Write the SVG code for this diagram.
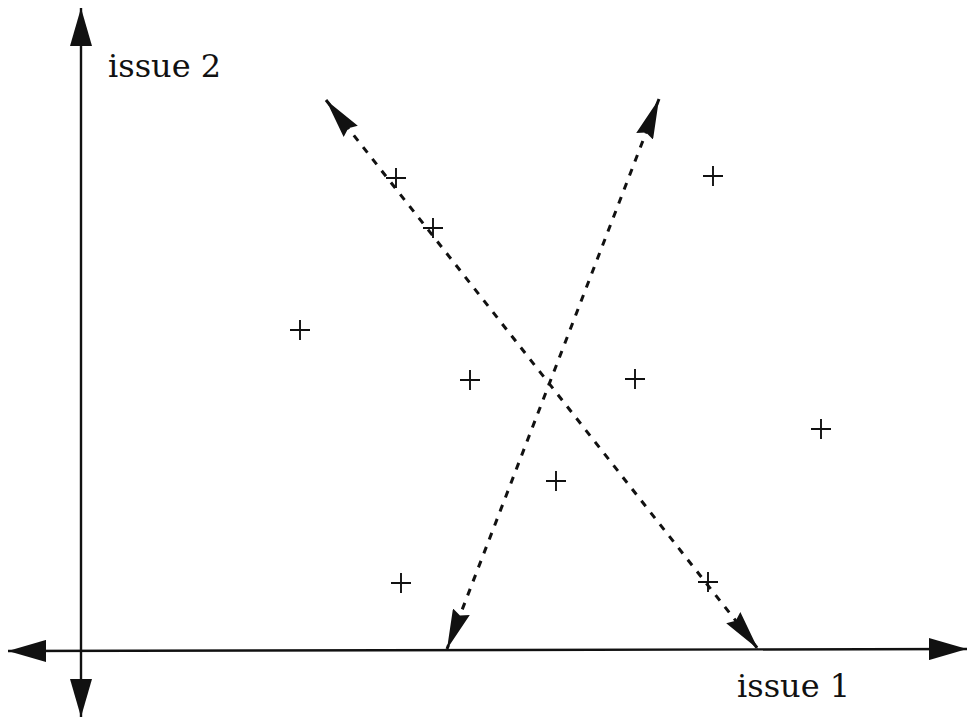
<svg xmlns="http://www.w3.org/2000/svg" width="970" height="719" viewBox="0 0 970 719">
<style>
.axis{stroke:#111;stroke-width:2.4;fill:none}
.dash{stroke:#111;stroke-width:3;fill:none;stroke-dasharray:7 8}
.pt{stroke:#111;stroke-width:1.9;fill:none}
.lbl{font-family:"DejaVu Serif","Liberation Serif",serif;font-size:32px;fill:#111}
</style>
<defs>
<marker id="axh" markerUnits="userSpaceOnUse" markerWidth="40" markerHeight="22" refX="38" refY="11" orient="auto-start-reverse" viewBox="0 0 40 22">
<path d="M0,0 L38,11 L0,22 z" fill="#111"/>
</marker>
<marker id="dh" markerUnits="userSpaceOnUse" markerWidth="42" markerHeight="18" refX="40" refY="9" orient="auto-start-reverse" viewBox="0 0 42 18">
<path d="M0,0 L40,9 L0,18 L4,9 z" fill="#111"/>
</marker>
<path id="plus" d="M-10,0 H10 M0,-10 V10"/>
</defs>
<rect width="970" height="719" fill="#fff"/>
<g id="connectors">
<line class="axis" x1="81" y1="8" x2="81" y2="717" marker-start="url(#axh)" marker-end="url(#axh)"/>
<line class="axis" x1="8" y1="651" x2="967" y2="649" marker-start="url(#axh)" marker-end="url(#axh)"/>
<line class="dash" x1="326" y1="100" x2="758" y2="649" marker-start="url(#dh)" marker-end="url(#dh)"/>
<line class="dash" x1="659" y1="99" x2="447" y2="649" marker-start="url(#dh)" marker-end="url(#dh)"/>
</g>
<g id="points" class="pt">
<use href="#plus" x="396" y="178"/>
<use href="#plus" x="433" y="228"/>
<use href="#plus" x="713" y="176"/>
<use href="#plus" x="300" y="330"/>
<use href="#plus" x="470" y="380"/>
<use href="#plus" x="635" y="379"/>
<use href="#plus" x="821" y="429"/>
<use href="#plus" x="556" y="481"/>
<use href="#plus" x="401" y="583"/>
<use href="#plus" x="708" y="582"/>
</g>
<g id="label-issue2"><text class="lbl" x="108" y="77">issue 2</text></g>
<g id="label-issue1"><text class="lbl" x="737" y="697">issue 1</text></g>
</svg>
